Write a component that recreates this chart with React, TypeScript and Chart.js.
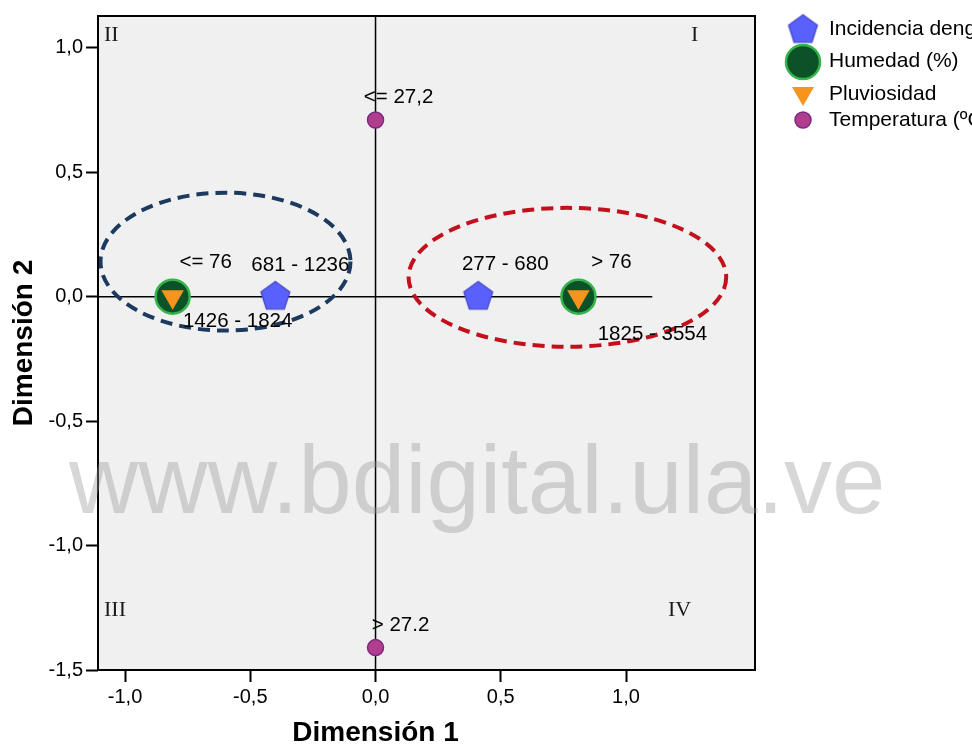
import React, { useEffect, useRef } from 'react';
import { Chart, registerables } from 'chart.js';

Chart.register(...registerables);

// ---- data ----
const seriesNames = ['Incidencia dengue', 'Humedad (%)', 'Pluviosidad', 'Temperatura (ºC)'];

const dengueX = [-0.40, 0.41];
const dengueY = [0.0, 0.0];
const dengueLabels = ['681 - 1236', '277 - 680'];

const humedadX = [-0.81, 0.81];
const humedadY = [0.0, 0.0];
const humedadLabels = ['<= 76', '> 76'];

const pluvioX = [-0.81, 0.81];
const pluvioY = [0.0, 0.0];
const pluvioLabels = ['1426 - 1824', '1825 - 3554'];

const tempX = [0.0, 0.0];
const tempY = [0.71, -1.41];
const tempLabels = ['<= 27,2', '> 27.2'];

const xTicks = [-1.0, -0.5, 0.0, 0.5, 1.0];
const yTicks = [-1.5, -1.0, -0.5, 0.0, 0.5, 1.0];
const xRange = [-1.108, 1.515];
const yRange = [-1.5, 1.128];
const zeroLineXEnd = 1.105;

const xTitle = 'Dimensión 1';
const yTitle = 'Dimensión 2';
const quadrantLabels = ['I', 'II', 'III', 'IV'];

// ellipses in data units: [cx, cy, rx, ry]
const blueEllipse = [-0.599, 0.141, 0.499, 0.277];
const redEllipse = [0.766, 0.078, 0.634, 0.279];

const watermarkText = 'www.bdigital.ula.ve';

// label placement offsets (px) relative to each point
const dengueLabelOffsets = [[25, -31], [27, -32]];
const humedadLabelOffsets = [[33, -34], [33, -34]];
const pluvioLabelOffsets = [[65, 25], [74, 38]];
const tempLabelOffsets = [[23, -23], [25, -22]];

const SANS = '"Liberation Sans", Arial, sans-serif';
const SERIF = '"Liberation Serif", "Times New Roman", serif';

const C_PENT_FILL = '#5a60fb';
const C_PENT_STROKE = '#4246c8';
const C_HUM_FILL = '#0b5228';
const C_HUM_STROKE = '#36b34a';
const C_PLU_FILL = '#f7941d';
const C_TEMP_FILL = '#b13d8d';
const C_TEMP_STROKE = '#7a2a80';

function makePentagon(R: number): HTMLCanvasElement {
  const size = Math.ceil(R * 2 + 4);
  const c = document.createElement('canvas');
  c.width = size;
  c.height = size;
  const ctx = c.getContext('2d')!;
  const cx = size / 2;
  const cy = size / 2;
  ctx.beginPath();
  for (let i = 0; i < 5; i++) {
    const a = -Math.PI / 2 + (i * 2 * Math.PI) / 5;
    const px = cx + R * Math.cos(a);
    const py = cy + R * Math.sin(a);
    if (i === 0) ctx.moveTo(px, py);
    else ctx.lineTo(px, py);
  }
  ctx.closePath();
  ctx.fillStyle = C_PENT_FILL;
  ctx.fill();
  ctx.lineWidth = 1.2;
  ctx.strokeStyle = C_PENT_STROKE;
  ctx.stroke();
  return c;
}

function pts(xs: number[], ys: number[]) {
  return xs.map((x, i) => ({ x, y: ys[i] }));
}

export default function App() {
  const ref = useRef<HTMLCanvasElement | null>(null);

  useEffect(() => {
    if (!ref.current) return;
    const pent = makePentagon(15.2);

    const labelSets = [
      { labels: dengueLabels, offsets: dengueLabelOffsets },
      { labels: humedadLabels, offsets: humedadLabelOffsets },
      { labels: pluvioLabels, offsets: pluvioLabelOffsets },
      { labels: tempLabels, offsets: tempLabelOffsets },
    ];

    const drawEllipse = (ctx: CanvasRenderingContext2D, chart: any, e: number[], color: string) => {
      const xs = chart.scales.x;
      const ys = chart.scales.y;
      const cx = xs.getPixelForValue(e[0]);
      const cy = ys.getPixelForValue(e[1]);
      const rx = Math.abs(xs.getPixelForValue(e[0] + e[2]) - cx);
      const ry = Math.abs(ys.getPixelForValue(e[1] + e[3]) - cy);
      ctx.save();
      ctx.beginPath();
      ctx.ellipse(cx, cy, rx, ry, 0, 0, Math.PI * 2);
      ctx.setLineDash([12, 7]);
      ctx.lineWidth = 4;
      ctx.strokeStyle = color;
      ctx.stroke();
      ctx.restore();
    };

    const decor = {
      id: 'decor',
      beforeDraw(chart: any) {
        const { ctx, chartArea: a } = chart;
        ctx.save();
        ctx.fillStyle = '#ffffff';
        ctx.fillRect(0, 0, chart.width, chart.height);
        ctx.fillStyle = '#f0f0f0';
        ctx.fillRect(a.left, a.top, a.right - a.left, a.bottom - a.top);
        ctx.restore();
      },
      beforeDatasetsDraw(chart: any) {
        const { ctx, chartArea: a } = chart;
        const xs = chart.scales.x;
        const ys = chart.scales.y;
        ctx.save();
        ctx.strokeStyle = '#000';
        ctx.lineWidth = 1.5;
        const y0 = ys.getPixelForValue(0);
        ctx.beginPath();
        ctx.moveTo(a.left, y0);
        ctx.lineTo(xs.getPixelForValue(zeroLineXEnd), y0);
        ctx.stroke();
        const x0 = xs.getPixelForValue(0);
        ctx.beginPath();
        ctx.moveTo(x0, a.top);
        ctx.lineTo(x0, a.bottom);
        ctx.stroke();
        ctx.restore();
      },
      afterDatasetsDraw(chart: any) {
        const { ctx, chartArea: a } = chart;
        drawEllipse(ctx, chart, blueEllipse, '#1b3a5e');
        drawEllipse(ctx, chart, redEllipse, '#c3101c');

        // point labels
        ctx.save();
        ctx.fillStyle = '#000';
        ctx.font = `20.5px ${SANS}`;
        ctx.textAlign = 'center';
        ctx.textBaseline = 'middle';
        labelSets.forEach((set, di) => {
          const meta = chart.getDatasetMeta(di);
          meta.data.forEach((el: any, i: number) => {
            const [dx, dy] = set.offsets[i];
            ctx.fillText(set.labels[i], el.x + dx, el.y + dy);
          });
        });
        ctx.restore();

        // border
        ctx.save();
        ctx.strokeStyle = '#000';
        ctx.lineWidth = 2;
        ctx.strokeRect(a.left, a.top, a.right - a.left, a.bottom - a.top);
        ctx.restore();

        // quadrant labels
        ctx.save();
        ctx.fillStyle = '#1a1a1a';
        ctx.font = `22px ${SERIF}`;
        ctx.textBaseline = 'middle';
        ctx.textAlign = 'left';
        ctx.fillText(quadrantLabels[0], a.right - 64, a.top + 19);
        ctx.fillText(quadrantLabels[1], a.left + 6, a.top + 19);
        ctx.fillText(quadrantLabels[2], a.left + 6, a.bottom - 60);
        ctx.fillText(quadrantLabels[3], a.right - 87, a.bottom - 60);
        ctx.restore();
      },
      afterDraw(chart: any) {
        const { ctx } = chart;
        const xs = chart.scales.x;

        // x axis title (centred on the origin, as in the original)
        ctx.save();
        ctx.fillStyle = '#000';
        ctx.font = `bold 28px ${SANS}`;
        ctx.textAlign = 'center';
        ctx.textBaseline = 'middle';
        ctx.fillText(xTitle, xs.getPixelForValue(0), 733);
        ctx.restore();

        // legend
        ctx.save();
        const mx = 803;
        const tx = 829;
        const rows = [29, 61, 94, 120];
        ctx.drawImage(pent, mx - pent.width / 2, rows[0] + 1 - pent.height / 2);
        ctx.beginPath();
        ctx.arc(mx, 62, 17, 0, Math.PI * 2);
        ctx.fillStyle = C_HUM_FILL;
        ctx.fill();
        ctx.lineWidth = 2.5;
        ctx.strokeStyle = C_HUM_STROKE;
        ctx.stroke();
        const r = 12.7;
        const ty = 93.4;
        ctx.beginPath();
        ctx.moveTo(mx, ty + r);
        ctx.lineTo(mx - r * Math.sin(Math.PI / 3), ty - r / 2);
        ctx.lineTo(mx + r * Math.sin(Math.PI / 3), ty - r / 2);
        ctx.closePath();
        ctx.fillStyle = C_PLU_FILL;
        ctx.fill();
        ctx.beginPath();
        ctx.arc(mx, 120, 8, 0, Math.PI * 2);
        ctx.fillStyle = C_TEMP_FILL;
        ctx.fill();
        ctx.lineWidth = 1.5;
        ctx.strokeStyle = C_TEMP_STROKE;
        ctx.stroke();

        ctx.fillStyle = '#000';
        ctx.font = `21px ${SANS}`;
        ctx.textAlign = 'left';
        ctx.textBaseline = 'middle';
        chart.data.datasets.forEach((ds: any, i: number) => {
          ctx.fillText(ds.label, tx, rows[i]);
        });
        ctx.restore();

        // watermark
        ctx.save();
        ctx.font = `96px ${SANS}`;
        ctx.fillStyle = 'rgba(150,150,150,0.38)';
        ctx.textAlign = 'left';
        ctx.textBaseline = 'alphabetic';
        ctx.fillText(watermarkText, 69, 513);
        ctx.restore();
      },
    };

    const tickFmt = (v: any) => Number(v).toFixed(1).replace('.', ',');

    const chart = new Chart(ref.current, {
      type: 'scatter',
      data: {
        datasets: [
          {
            label: seriesNames[0],
            data: pts(dengueX, dengueY),
            pointStyle: pent as any,
            pointRadius: 15,
            pointHoverRadius: 15,
            backgroundColor: C_PENT_FILL,
            borderColor: C_PENT_STROKE,
            order: 0,
          },
          {
            label: seriesNames[1],
            data: pts(humedadX, humedadY),
            pointStyle: 'circle',
            pointRadius: 17,
            pointHoverRadius: 17,
            backgroundColor: C_HUM_FILL,
            borderColor: C_HUM_STROKE,
            borderWidth: 2.5,
            pointBorderWidth: 2.5,
            order: 3,
          },
          {
            label: seriesNames[2],
            data: pts(pluvioX, pluvioY),
            pointStyle: 'triangle',
            rotation: 180,
            pointRotation: 180,
            pointRadius: 13,
            pointHoverRadius: 13,
            backgroundColor: C_PLU_FILL,
            borderColor: C_PLU_FILL,
            borderWidth: 0,
            pointBorderWidth: 0,
            order: 2,
          } as any,
          {
            label: seriesNames[3],
            data: pts(tempX, tempY),
            pointStyle: 'circle',
            pointRadius: 8,
            pointHoverRadius: 8,
            backgroundColor: C_TEMP_FILL,
            borderColor: C_TEMP_STROKE,
            borderWidth: 1.5,
            pointBorderWidth: 1.5,
            order: 1,
          },
        ],
      },
      options: {
        animation: false,
        responsive: false,
        devicePixelRatio: 1,
        events: [],
        layout: { autoPadding: false, padding: { left: 0, top: 16, right: 217, bottom: 0 } },
        plugins: {
          legend: { display: false },
          tooltip: { enabled: false },
        },
        scales: {
          x: {
            type: 'linear',
            position: 'bottom',
            min: xRange[0],
            max: xRange[1],
            afterBuildTicks: (s: any) => {
              s.ticks = xTicks.map((v) => ({ value: v }));
            },
            afterFit: (s: any) => {
              s.height = 80;
              s.paddingLeft = 0;
              s.paddingRight = 0;
            },
            border: { display: false },
            grid: {
              drawOnChartArea: false,
              drawTicks: true,
              tickLength: 12,
              tickColor: '#000',
              tickWidth: 2,
            },
            ticks: {
              color: '#000',
              font: { family: SANS, size: 20 },
              padding: 3,
              maxRotation: 0,
              autoSkip: false,
              callback: tickFmt,
            },
            title: { display: false },
          },
          y: {
            type: 'linear',
            position: 'left',
            min: yRange[0],
            max: yRange[1],
            afterBuildTicks: (s: any) => {
              s.ticks = yTicks.map((v) => ({ value: v }));
            },
            afterFit: (s: any) => {
              s.width = 98;
              s.paddingTop = 0;
              s.paddingBottom = 0;
            },
            border: { display: false },
            grid: {
              drawOnChartArea: false,
              drawTicks: true,
              tickLength: 12,
              tickColor: '#000',
              tickWidth: 2,
            },
            ticks: {
              color: '#000',
              font: { family: SANS, size: 20 },
              padding: 3,
              autoSkip: false,
              callback: tickFmt,
            },
            title: {
              display: true,
              text: yTitle,
              color: '#000',
              font: { family: SANS, size: 28, weight: 'bold' },
              padding: { top: 7, bottom: 0 },
            },
          },
        },
      } as any,
      plugins: [decor],
    });

    return () => {
      chart.destroy();
    };
  }, []);

  return (
    <div style={{ position: 'absolute', left: 0, top: 0, width: 972, height: 750, background: '#fff', overflow: 'hidden' }}>
      <canvas ref={ref} width={972} height={750} style={{ display: 'block' }} />
    </div>
  );
}
